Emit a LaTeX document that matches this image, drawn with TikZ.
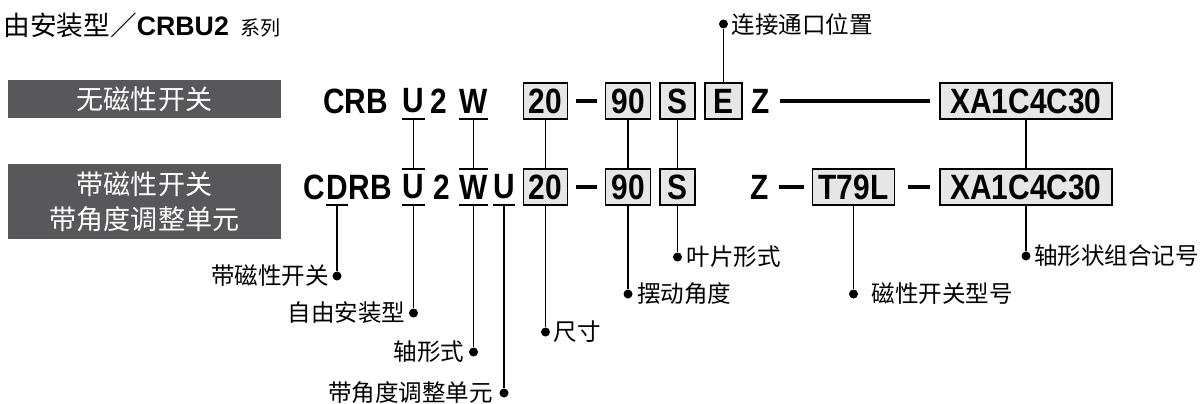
\documentclass[tikz,border=0pt]{standalone}
\usepackage{fontspec}
\setmainfont{Noto Sans CJK SC}
\newfontfamily\codefont[FakeStretch=0.85]{Liberation Sans}
\newfontfamily\headfont{Liberation Sans}
\usepackage{tikz}
\usetikzlibrary{positioning}
\definecolor{darkbox}{RGB}{88, 88, 90}
\definecolor{cellgray}{RGB}{230, 230, 230}

\begin{document}
\begin{tikzpicture}[x=0.02cm, y=-0.02cm,
    code/.style={font=\codefont\bfseries\fontsize{20pt}{24pt}\selectfont, inner sep=0pt, minimum height=0.72cm},
    cell/.style={code, draw, fill=cellgray, line width=1pt},
    tag/.style={fill=darkbox, text=white, minimum width=5.46cm, font=\fontsize{15.4pt}{19.9pt}\selectfont, align=center},
    tipdot/.style={circle, fill, inner sep=0pt, minimum size=0.18cm},
    note/.style={font=\fontsize{13.4pt}{16pt}\selectfont, inner sep=0pt},
    link/.style={line width=1pt},
    sep/.style={line width=2.5pt, shorten <=0.16cm, shorten >=0.16cm}]
    \useasboundingbox (0,0) rectangle (1203,403);

    % 标题
    \node[anchor=west, inner sep=0pt, font=\fontsize{15.2pt}{18pt}\selectfont] (title) at (3,25) {由安装型／{\headfont\bfseries CRBU2}\hspace{0.45em}{\fontsize{11.4pt}{14pt}\selectfont 系列}};

    % 左侧标签
    \node[tag, minimum height=0.76cm] (nomag) at (144.5,99) {无磁性开关};
    \node[tag, minimum height=1.5cm] (withmag) at (144.5,201.5) {带磁性开关\\带角度调整单元};

    % 第一行
    \node[code] (crb) at (355.5,101) {CRB};
    \node[code] (ua) at (413.5,101) {U};
    \node[code] (twoa) at (439,101) {2};
    \node[code] (wa) at (473.5,101) {W};
    \node[cell, minimum width=0.88cm] (sza) at (545.5,101) {20};
    \node[cell, minimum width=0.9cm] (anga) at (628,101) {90};
    \node[cell, minimum width=0.7cm] (vanea) at (677.5,101) {S};
    \node[cell, minimum width=0.74cm] (porte) at (723.5,101) {E};
    \node[code] (za) at (761,101) {Z};
    \node[cell, minimum width=3.44cm] (shafta) at (1026,101) {XA1C4C30};

    % 第二行
    \node[code] (cd) at (337,187) {D};
    \node[code, left=0pt of cd] (cc) {C};
    \node[code, right=0pt of cd] (crbb) {RB};
    \node[code] (ub) at (413.5,187) {U};
    \node[code] (twob) at (441.5,187) {2};
    \node[code] (wb) at (473.5,187) {W};
    \node[code] (uc) at (504,187) {U};
    \node[cell, minimum width=0.88cm] (szb) at (545.5,187) {20};
    \node[cell, minimum width=0.9cm] (angb) at (628,187) {90};
    \node[cell, minimum width=0.7cm] (vaneb) at (677.5,187) {S};
    \node[code] (zb) at (760,187) {Z};
    \node[cell, minimum width=1.64cm] (swt) at (853.5,187) {T79L};
    \node[cell, minimum width=3.44cm] (shaftb) at (1026,187) {XA1C4C30};

    % 分隔线
    \draw[sep] (sza) -- (anga);
    \draw[sep, shorten <=0.2cm, shorten >=0.18cm] (za) -- (shafta);
    \draw[sep] (szb) -- (angb);
    \draw[sep, shorten <=0.2cm] (zb) -- (swt);
    \draw[sep, shorten <=0.26cm, shorten >=0.18cm] (swt) -- (shaftb);

    % 两行之间的对应
    \draw[link] (ua.south west) -- (ua.south east);
    \draw[link] (ub.north west) -- (ub.north east);
    \draw[link] (ua.south) -- (ub.north);
    \draw[link] (wa.south west) -- (wa.south east);
    \draw[link] (wb.north west) -- (wb.north east);
    \draw[link] (wa.south) -- (wb.north);
    \draw[link] (sza) -- (szb);
    \draw[link] (anga) -- (angb);
    \draw[link] (vanea) -- (vaneb);
    \draw[link] (shafta) -- (shaftb);

    % 连接通口位置
    \node[tipdot] (dport) at (723.5,24) {};
    \draw[link] (porte) -- (dport);
    \node[note, right=0.06cm of dport] (lport) {连接通口位置};

    % 下方说明
    \draw[link] (cd.south west) -- (cd.south east);
    \node[tipdot] (dmag) at (337,276) {};
    \draw[link] (cd.south) -- (dmag);
    \node[note, left=0.06cm of dmag] (lmag) {带磁性开关};

    \draw[link] (ub.south west) -- (ub.south east);
    \node[tipdot] (dmount) at (413.5,313) {};
    \draw[link] (ub.south) -- (dmount);
    \node[note, left=0.06cm of dmount] (lmount) {自由安装型};

    \draw[link] (wb.south west) -- (wb.south east);
    \node[tipdot] (dshaft) at (473.5,352) {};
    \draw[link] (wb.south) -- (dshaft);
    \node[note, left=0.08cm of dshaft] (lshaft) {轴形式};

    \draw[link] (uc.south west) -- (uc.south east);
    \node[tipdot] (dadj) at (504,393) {};
    \draw[link] (uc.south) -- (dadj);
    \node[note, left=0.12cm of dadj] (ladj) {带角度调整单元};

    \node[tipdot] (dsize) at (545.5,332) {};
    \draw[link] (szb) -- (dsize);
    \node[note, right=0.06cm of dsize] (lsize) {尺寸};

    \node[tipdot] (dang) at (628,294) {};
    \draw[link] (angb) -- (dang);
    \node[note, right=0.08cm of dang] (lang) {摆动角度};

    \node[tipdot] (dvane) at (677.5,257) {};
    \draw[link] (vaneb) -- (dvane);
    \node[note, right=0.08cm of dvane] (lvane) {叶片形式};

    \node[tipdot] (dswt) at (853.5,294) {};
    \draw[link] (swt) -- (dswt);
    \node[note, right=0.26cm of dswt] (lswt) {磁性开关型号};

    \node[tipdot] (dcombo) at (1026,256) {};
    \draw[link] (shaftb) -- (dcombo);
    \node[note, right=0.06cm of dcombo] (lcombo) {轴形状组合记号};
\end{tikzpicture}
\end{document}
